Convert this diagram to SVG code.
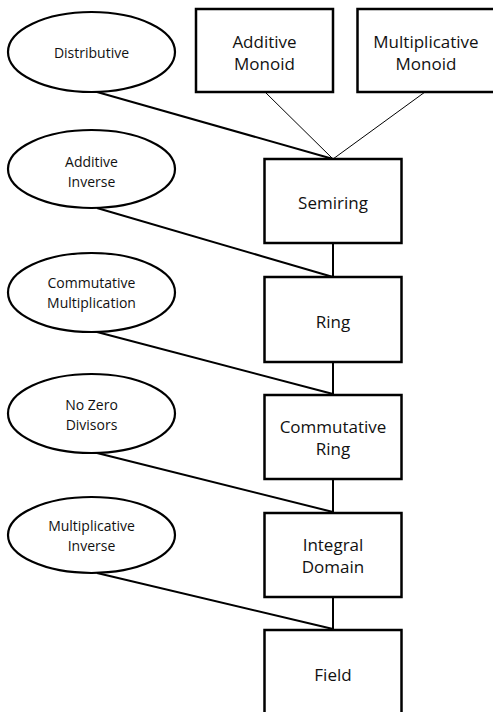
<svg xmlns="http://www.w3.org/2000/svg" width="493" height="712" viewBox="0 0 493 712">
<style>
.box{fill:#fff;stroke:#000;stroke-width:2.5}
.ell{fill:#fff;stroke:#000;stroke-width:2.2}
.thick{stroke:#000;stroke-width:2;fill:none}
.thin{stroke:#000;stroke-width:1;fill:none}
.bt{font-family:"Open Sans","Liberation Sans",sans-serif;font-size:17px;fill:#111;text-anchor:middle}
.et{font-family:"Open Sans","Liberation Sans",sans-serif;font-size:14px;fill:#111;text-anchor:middle}
</style>
<rect width="493" height="712" fill="#fff"/>
<g id="connectors">
<line class="thick" x1="97" y1="92" x2="333" y2="159"/>
<line class="thin" x1="265" y1="92" x2="333" y2="159"/>
<line class="thin" x1="425" y1="92" x2="333" y2="159"/>
<line class="thick" x1="97" y1="208" x2="333" y2="277"/>
<line class="thick" x1="333" y1="243" x2="333" y2="277"/>
<line class="thick" x1="97" y1="332" x2="333" y2="394"/>
<line class="thick" x1="333" y1="362" x2="333" y2="394"/>
<line class="thick" x1="97" y1="453" x2="333" y2="512"/>
<line class="thick" x1="333" y1="479" x2="333" y2="512"/>
<line class="thick" x1="97" y1="573" x2="333" y2="629"/>
<line class="thick" x1="333" y1="597" x2="333" y2="629"/>
</g>
<g id="additive-monoid"><rect class="box" x="196" y="9" width="137" height="83"/><text class="bt" x="264.5" y="48">Additive</text><text class="bt" x="264.5" y="70">Monoid</text></g>
<g id="multiplicative-monoid"><rect class="box" x="357.5" y="9" width="137" height="83"/><text class="bt" x="426" y="48">Multiplicative</text><text class="bt" x="426" y="70">Monoid</text></g>
<g id="distributive"><ellipse class="ell" cx="91.5" cy="52" rx="83.5" ry="40"/><text class="et" x="91.5" y="58">Distributive</text></g>
<g id="additive-inverse"><ellipse class="ell" cx="91.5" cy="169" rx="83.5" ry="39"/><text class="et" x="91.5" y="167">Additive</text><text class="et" x="91.5" y="187">Inverse</text></g>
<g id="commutative-multiplication"><ellipse class="ell" cx="91.5" cy="292.5" rx="83.5" ry="39.5"/><text class="et" x="91.5" y="288">Commutative</text><text class="et" x="91.5" y="308">Multiplication</text></g>
<g id="no-zero-divisors"><ellipse class="ell" cx="91.5" cy="413.5" rx="83.5" ry="39.5"/><text class="et" x="91.5" y="410">No Zero</text><text class="et" x="91.5" y="430">Divisors</text></g>
<g id="multiplicative-inverse"><ellipse class="ell" cx="91.5" cy="535" rx="83.5" ry="38"/><text class="et" x="91.5" y="531">Multiplicative</text><text class="et" x="91.5" y="551">Inverse</text></g>
<g id="semiring"><rect class="box" x="264.5" y="159" width="137" height="84"/><text class="bt" x="333" y="209">Semiring</text></g>
<g id="ring"><rect class="box" x="264.5" y="277" width="137" height="85"/><text class="bt" x="333" y="328">Ring</text></g>
<g id="commutative-ring"><rect class="box" x="264.5" y="395" width="137" height="84"/><text class="bt" x="333" y="433">Commutative</text><text class="bt" x="333" y="455">Ring</text></g>
<g id="integral-domain"><rect class="box" x="264.5" y="513" width="137" height="84"/><text class="bt" x="333" y="551">Integral</text><text class="bt" x="333" y="573">Domain</text></g>
<g id="field"><rect class="box" x="264.5" y="630" width="137" height="90"/><text class="bt" x="333" y="681">Field</text></g>
</svg>
